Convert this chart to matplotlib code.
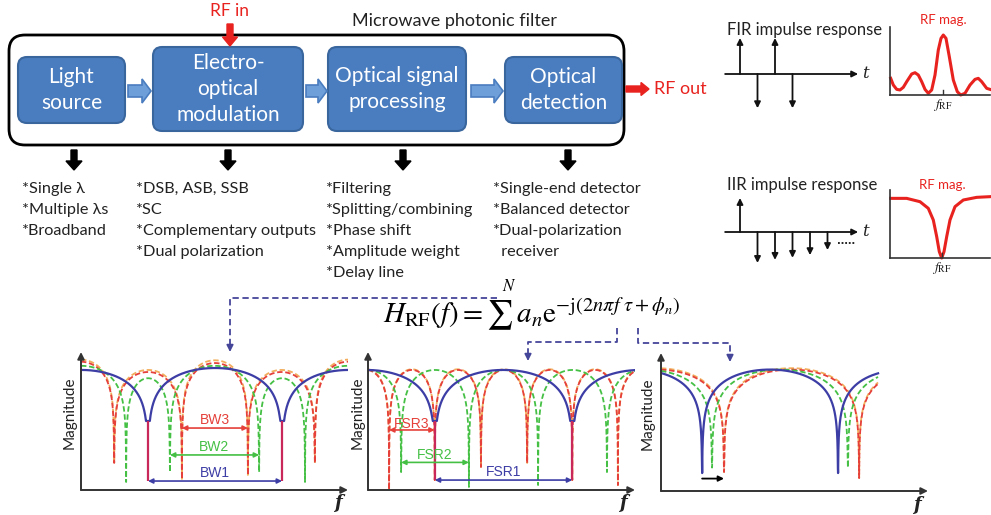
import numpy as np
import matplotlib
matplotlib.use('Agg')
import matplotlib.pyplot as plt
from matplotlib.patches import FancyBboxPatch, FancyArrow

plt.rcParams['font.family'] = ['Lato', 'DejaVu Sans']
plt.rcParams['mathtext.fontset'] = 'stix'

W, H = 991, 515

# ---- block diagram content
block_labels = ['Light\nsource', 'Electro-\noptical\nmodulation',
                'Optical signal\nprocessing', 'Optical\ndetection']
block_options = [
    ['*Single λ', '*Multiple λs', '*Broadband'],
    ['*DSB, ASB, SSB', '*SC', '*Complementary outputs', '*Dual polarization'],
    ['*Filtering', '*Splitting/combining', '*Phase shift', '*Amplitude weight', '*Delay line'],
    ['*Single-end detector', '*Balanced detector', '*Dual-polarization', '  receiver'],
]

# ---- impulse responses (tap amplitudes) and their RF magnitude responses
fir_taps = [1.0, -0.95, 1.0, -0.95]
iir_taps = [1.0, -0.91, -0.82, -0.76, -0.68, -0.53]

fir_mag_f = [0.7, 3.3, 6.7, 10, 13.3, 16.7, 21.7, 25, 28.3, 31.7, 35, 38.3, 41.7, 45, 48.3,
             51, 53.3, 56, 59.3, 63.3, 67.3, 70.7, 75, 80, 85, 88.3, 91.7, 96.7, 100]
fir_mag = [0.245, 0.147, 0.083, 0.074, 0.113, 0.196, 0.309, 0.328, 0.294, 0.196, 0.083, 0.025,
           0.074, 0.294, 0.662, 0.833, 0.882, 0.833, 0.564, 0.221, 0.049, 0.0, 0.025, 0.147,
           0.23, 0.245, 0.196, 0.098, 0.083]
fir_f_rf = 53

iir_mag_f = [0.7, 16.7, 30, 38.3, 43.3, 46.7, 49.3, 51.7, 54, 56.7, 60, 65, 73.3, 86.7, 100]
iir_mag = [0.877, 0.877, 0.828, 0.73, 0.559, 0.314, 0.093, 0.0, 0.093, 0.314, 0.559, 0.755,
           0.853, 0.892, 0.902]
iir_f_rf = 52

# ---- notch filter responses: notch frequencies, notch floors, arc peaks
# bandwidth tuning
bw_blue_notch, bw_blue_floor, bw_blue_peak = [25.1, 75.3], [0.5, 0.5], [0.87, 0.884, 0.87]
bw_green_notch = [16.9, 33.3, 66.7, 83.9]
bw_green_floor = [0.058, 0.13, 0.13, 0.058]
bw_green_peak = [0.9, 0.81, 0.9, 0.81, 0.9]
bw_red_notch = [12.4, 37.8, 62.5, 87.6]
bw_red_floor = [0.196, 0.08, 0.109, 0.196]
bw_red_peak = [0.93, 0.855, 0.92, 0.855, 0.93]
bw_orange_peak = [0.945, 0.87, 0.94, 0.87, 0.945]
bw_levels = [0.065, 0.254, 0.449]

# FSR tuning
fsr_blue_notch, fsr_blue_floor = [25.0, 76.5], [0.5, 0.5]
fsr_green_notch = [12.4, 37.8, 63.7, 89.5]
fsr_green_floor = [0.13, 0.022, 0.036, 0.13]
fsr_red_notch = [7.9, 25.0, 42.3, 59.6, 76.5, 93.6]
fsr_red_floor = [0.0, 0.072, 0.167, 0.196, 0.072, 0.036]
fsr_peak = 0.87
fsr_levels = [0.072, 0.2, 0.435]

# frequency shift
tune_end = 81.3
tune_blue_notch, tune_blue_floor = [15.4, 66.3], [0.13, 0.13]
tune_green_notch, tune_green_floor = [19.1, 70.0], [0.17, 0.17]
tune_red_notch, tune_red_floor = [23.6, 74.2], [0.138, 0.094]
tune_peak = 0.88
tune_arrow_level = 0.09

BLUE, GREEN, RED, ORANGE = '#3d3da6', '#45c045', '#e5403a', '#f2ae5c'
GUIDE = '#c8285a'
BOX, BOX_EDGE = '#4a7dbf', '#3a669e'
RFRED = '#e8231f'
INK = '#222222'

fig = plt.figure(figsize=(W / 100, H / 100), dpi=100)
base = fig.add_axes([0, 0, 1, 1])
base.set_xlim(0, W)
base.set_ylim(H, 0)
base.axis('off')


def px_axes(x0, y0, x1, y1):
    ax = fig.add_axes([x0 / W, 1 - y1 / H, (x1 - x0) / W, (y1 - y0) / H])
    ax.patch.set_alpha(0)
    return ax


def notch_curve(notches, floors, peaks, end=100, sharp=0.28):
    n = np.asarray(notches, float)
    left = n[0] - max(n[1] - n[0], 2 * n[0])
    right = n[-1] + max(n[-1] - n[-2], 2 * (end - n[-1]))
    bounds = np.concatenate([[left], n, [right]])
    fl = np.concatenate([[0], floors, [0]])
    pk = np.broadcast_to(np.asarray(peaks, float), (len(n) + 1,))
    f = np.union1d(np.linspace(0, end, 4000), n)
    seg = np.clip(np.searchsorted(bounds, f, side='right') - 1, 0, len(bounds) - 2)
    u = (f - bounds[seg]) / (bounds[seg + 1] - bounds[seg])
    mag = pk[seg] + sharp * np.log10(np.maximum(np.sin(np.pi * u), 1e-12))
    floor = np.where(u < 0.5, fl[seg], fl[seg + 1])
    return f, np.maximum(mag, floor)


def arrow_axes(ax, xmax, fx, fy):
    kw = dict(arrowstyle='-|>', color='#333333', lw=1.4, mutation_scale=10, shrinkA=0, shrinkB=0)
    ax.annotate('', xy=(100, 0), xytext=(0, 0), arrowprops=kw, annotation_clip=False)
    ax.annotate('', xy=(0, 1), xytext=(0, 0), arrowprops=kw, annotation_clip=False)
    ax.text(fx, fy, 'f', fontsize=13, style='italic', weight='bold', family='DejaVu Serif',
            ha='center', va='center', color=INK)


def span_arrow(ax, x0, x1, y, color, label=None, label_dy=0.055):
    ax.annotate('', xy=(x1, y), xytext=(x0, y), annotation_clip=False,
                arrowprops=dict(arrowstyle='<|-|>', color=color, lw=1.2, mutation_scale=7,
                                shrinkA=0, shrinkB=0))
    if label:
        ax.text((x0 + x1) / 2, y + label_dy, label, color=color, fontsize=10,
                family='Liberation Sans', ha='center', va='center')


# ---- outer filter frame and blocks
base.add_patch(FancyBboxPatch((9, 35), 615, 110, boxstyle='round,pad=0,rounding_size=16',
                              fc='none', ec='black', lw=2))
base.text(454, 21, 'Microwave photonic filter', fontsize=13, ha='center', va='center', color=INK)

boxes = [(18, 57, 125, 123), (153, 47, 303, 131), (328, 47, 466, 131), (505, 57, 622, 123)]
for (x0, y0, x1, y1), label in zip(boxes, block_labels):
    base.add_patch(FancyBboxPatch((x0, y0), x1 - x0, y1 - y0,
                                  boxstyle='round,pad=0,rounding_size=9',
                                  fc=BOX, ec=BOX_EDGE, lw=1.5))
    base.text((x0 + x1) / 2, (y0 + y1) / 2, label, color='white', fontsize=15,
              ha='center', va='center', linespacing=1.4)

for xa, xb in [(128, 151), (306, 327), (471, 503)]:
    base.add_patch(FancyArrow(xa, 91, xb - xa, 0, width=12, head_width=24, head_length=9,
                              length_includes_head=True, fc='#6f9fd8', ec=BOX, lw=1.2))

# RF in / RF out
base.text(230, 11, 'RF in', color=RFRED, fontsize=12.5, ha='center', va='center')
base.add_patch(FancyArrow(230, 24, 0, 22, width=6, head_width=15, head_length=9,
                          length_includes_head=True, fc=RFRED, ec=RFRED))
base.add_patch(FancyArrow(626, 89, 23, 0, width=6, head_width=13, head_length=8,
                          length_includes_head=True, fc=RFRED, ec=RFRED))
base.text(654, 89, 'RF out', color=RFRED, fontsize=13, ha='left', va='center')

# ---- option lists under each block
down_x = [74, 228, 403, 568]
list_x = [22, 136, 326, 493]
for xd, xl, items in zip(down_x, list_x, block_options):
    base.add_patch(FancyArrow(xd, 150, 0, 20, width=6, head_width=16, head_length=9,
                              length_includes_head=True, fc='black', ec='black'))
    for k, item in enumerate(items):
        base.text(xl, 189 + 21 * k, item, fontsize=11.7, color=INK, ha='left', va='center')


# ---- impulse responses
def impulse_panel(y_top, y_bot, taps, title, title_y):
    ax = px_axes(722.5, y_top, 862.5, y_bot)
    ax.set_xlim(0, 8)
    ax.set_ylim(-1.25, 1.25)
    ax.axis('off')
    kw = dict(arrowstyle='-|>', color='#111111', lw=1.3, mutation_scale=9, shrinkA=0, shrinkB=0)
    ax.annotate('', xy=(7.75, 0), xytext=(0.15, 0), arrowprops=kw, annotation_clip=False)
    for t, a in enumerate(taps, start=1):
        ax.annotate('', xy=(t, a), xytext=(t, 0), arrowprops=kw, annotation_clip=False)
    ax.text(7.95, 0, 't', fontsize=12, style='italic', family='DejaVu Serif',
            ha='left', va='center', color=INK)
    base.text(727, title_y, title, fontsize=12, ha='left', va='center', color=INK)
    return ax


impulse_panel(29, 119, fir_taps, 'FIR impulse response', 30)
iax = impulse_panel(189.5, 274.5, iir_taps, 'IIR impulse response', 185)
iax.plot([6.6, 7.6], [-0.33, -0.33], color='#111111', lw=1.3, ls=(0, (1, 1)))


def mag_panel(y_top, y_bot, freq, mag, f_rf, label_y):
    ax = px_axes(890, y_top, 990, y_bot)
    ax.set_xlim(0, 100)
    ax.set_ylim(0, 1)
    for s in ['top', 'right']:
        ax.spines[s].set_visible(False)
    for s in ['left', 'bottom']:
        ax.spines[s].set_color('#333333')
        ax.spines[s].set_linewidth(1.2)
    ax.set_xticks([])
    ax.set_yticks([])
    ax.plot(freq, mag, color=RFRED, lw=2.2, solid_joinstyle='round', clip_on=False)
    ax.plot([f_rf, f_rf], [0, 0.07], color='#333333', lw=1)
    ax.text(f_rf, label_y, 'RF mag.', color=RFRED, fontsize=9.5, ha='center', va='center')
    ax.text(f_rf, -0.14, r'$f_{\mathrm{RF}}$', fontsize=10, ha='center', va='center',
            color=INK)


mag_panel(27, 95, fir_mag_f, fir_mag, fir_f_rf, 1.1)
mag_panel(190, 258, iir_mag_f, iir_mag, iir_f_rf, 1.07)

# ---- transfer function and connectors
base.text(383, 322, r'$H_{\mathrm{RF}}(f)=\sum\,a_n\mathrm{e}^{-\mathrm{j}(2n\pi f\ \tau+\phi_n)}$',
          fontsize=21, ha='left', va='baseline')
base.text(509, 286, r'$N$', fontsize=12, ha='center', va='center')

CONN = '#45459a'
for path in [[(497, 298), (230, 298), (230, 345)],
             [(617, 328), (617, 342), (528, 342), (528, 354)],
             [(638, 328), (638, 343), (730, 343), (730, 355)]]:
    xs, ys = zip(*path)
    base.plot(xs, ys, color=CONN, lw=1.3, ls=(0, (3.5, 2)))
    base.annotate('', xy=(xs[-1], ys[-1] + 7), xytext=(xs[-1], ys[-1]),
                  arrowprops=dict(arrowstyle='-|>', color=CONN, lw=1.2, mutation_scale=10,
                                  shrinkA=0, shrinkB=0))

DASH = (0, (3, 1.5))

# ---- bandwidth panel
ax1 = px_axes(81, 352, 348, 490)
ax1.set_xlim(0, 100)
ax1.set_ylim(0, 1)
ax1.axis('off')
ax1.plot(*notch_curve(bw_red_notch, bw_red_floor, bw_orange_peak), color=ORANGE, lw=1.3, ls=DASH)
ax1.plot(*notch_curve(bw_red_notch, bw_red_floor, bw_red_peak), color=RED, lw=1.3, ls=DASH)
ax1.plot(*notch_curve(bw_green_notch, bw_green_floor, bw_green_peak), color=GREEN, lw=1.3, ls=DASH)
ax1.plot(*notch_curve(bw_blue_notch, bw_blue_floor, bw_blue_peak), color=BLUE, lw=1.6)
ax1.vlines(bw_blue_notch, bw_levels[0], bw_blue_floor, color=GUIDE, lw=1.6)
arrow_axes(ax1, 100, 96.3, -0.094)
ax1.text(-4.1, 0.56, 'Magnitude', rotation=90, fontsize=11, ha='center', va='center', color=INK)
span_arrow(ax1, bw_blue_notch[0], bw_blue_notch[1], bw_levels[0], BLUE, 'BW1')
span_arrow(ax1, bw_green_notch[1], bw_green_notch[2], bw_levels[1], GREEN, 'BW2')
span_arrow(ax1, bw_red_notch[1], bw_red_notch[2], bw_levels[2], RED, 'BW3')

# ---- FSR panel
ax2 = px_axes(368, 352, 635, 490)
ax2.set_xlim(0, 100)
ax2.set_ylim(0, 1)
ax2.axis('off')
ax2.plot(*notch_curve(fsr_red_notch, fsr_red_floor, fsr_peak + 0.005), color=ORANGE, lw=1.3, ls=DASH)
ax2.plot(*notch_curve(fsr_red_notch, fsr_red_floor, fsr_peak), color=RED, lw=1.3, ls=DASH)
ax2.plot(*notch_curve(fsr_green_notch, fsr_green_floor, fsr_peak), color=GREEN, lw=1.3, ls=DASH)
ax2.plot(*notch_curve(fsr_blue_notch, fsr_blue_floor, fsr_peak), color=BLUE, lw=1.6)
ax2.vlines(fsr_blue_notch, fsr_levels[0], fsr_blue_floor, color=GUIDE, lw=1.6)
arrow_axes(ax2, 100, 95.5, -0.094)
ax2.text(-3.7, 0.56, 'Magnitude', rotation=90, fontsize=11, ha='center', va='center', color=INK)
span_arrow(ax2, fsr_blue_notch[0], fsr_blue_notch[1], fsr_levels[0], BLUE, 'FSR1')
span_arrow(ax2, fsr_green_notch[0], fsr_green_notch[1], fsr_levels[1], GREEN, 'FSR2')
span_arrow(ax2, fsr_red_notch[0], fsr_red_notch[1], fsr_levels[2], RED, 'FSR3', 0.04)

# ---- frequency shift panel
ax3 = px_axes(661, 353, 928, 491)
ax3.set_xlim(0, 100)
ax3.set_ylim(0, 1)
ax3.axis('off')
ax3.plot(*notch_curve(tune_red_notch, tune_red_floor, tune_peak + 0.01, tune_end), color=ORANGE, lw=1.3, ls=DASH)
ax3.plot(*notch_curve(tune_red_notch, tune_red_floor, tune_peak, tune_end), color=RED, lw=1.3, ls=DASH)
ax3.plot(*notch_curve(tune_green_notch, tune_green_floor, tune_peak, tune_end), color=GREEN, lw=1.3, ls=DASH)
ax3.plot(*notch_curve(tune_blue_notch, tune_blue_floor, tune_peak, tune_end), color=BLUE, lw=1.6)
arrow_axes(ax3, 100, 95.9, -0.1)
ax3.text(-4.9, 0.56, 'Magnitude', rotation=90, fontsize=11, ha='center', va='center', color=INK)
ax3.annotate('', xy=(tune_red_notch[0], tune_arrow_level),
             xytext=(tune_blue_notch[0], tune_arrow_level),
             arrowprops=dict(arrowstyle='-|>', color='black', lw=1.3, mutation_scale=8,
                             shrinkA=0, shrinkB=0))

fig.savefig('out.png', dpi=100)
